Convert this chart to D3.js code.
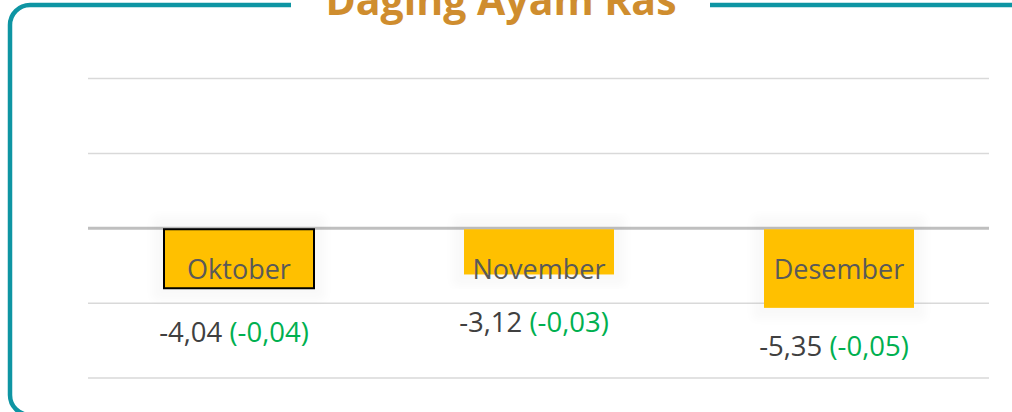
<!DOCTYPE html>
<html>
<head>
<meta charset="utf-8">
<script src="https://cdn.jsdelivr.net/npm/d3@7"></script>
<style>
  html, body { margin: 0; padding: 0; background: #fff; }
  svg { display: block; }
</style>
</head>
<body>
<svg id="chart" width="1012" height="412"></svg>
<script>
const title = "Daging Ayam Ras";
const categories = ["Oktober", "November", "Desember"];
const values = [-4.04, -3.12, -5.35];
const changes = [-0.04, -0.03, -0.05];
const yTicks = [-10, -5, 0, 5, 10];
const highlighted = ["Oktober"];

const fmt = v => d3.format(".2f")(v).replace("\u2212", "-").replace(".", ",");

const svg = d3.select("#chart");
const plot = { left: 89, right: 989, top: 78, bottom: 377.5 };

const x = d3.scaleBand().domain(categories)
  .range([plot.left, plot.right]).paddingInner(0.5).paddingOuter(0.25);
const y = d3.scaleLinear().domain([-10, 10]).range([plot.bottom, plot.top]);

// frame
svg.append("rect")
  .attr("x", 10).attr("y", 5).attr("width", 1020).attr("height", 410)
  .attr("rx", 20).attr("ry", 20)
  .attr("fill", "none").attr("stroke", "#0E95A3").attr("stroke-width", 4.5);
svg.append("rect").attr("x", 291).attr("y", 0).attr("width", 419).attr("height", 12).attr("fill", "#fff");

// title
svg.append("text")
  .attr("x", 501).attr("y", 15)
  .attr("text-anchor", "middle")
  .attr("font-family", "'Open Sans', sans-serif")
  .attr("font-weight", 700).attr("font-size", 41)
  .attr("fill", "#CF8D2E")
  .text(title);

// grid
const grid = svg.append("g")
  .attr("transform", `translate(${plot.left - 1},0)`)
  .call(d3.axisLeft(y).tickValues(yTicks).tickSize(-(plot.right - plot.left + 1)).tickFormat(""));
grid.select(".domain").remove();
grid.selectAll(".tick line")
  .attr("stroke", d => d === 0 ? "#BFBFBF" : "#D9D9D9")
  .attr("stroke-width", d => d === 0 ? 3 : 1.5);

// glow filter
const defs = svg.append("defs");
const f = defs.append("filter").attr("id", "glow").attr("x", "-30%").attr("y", "-30%").attr("width", "160%").attr("height", "160%");
f.append("feMorphology").attr("in", "SourceAlpha").attr("operator", "dilate").attr("radius", 12).attr("result", "d");
f.append("feGaussianBlur").attr("in", "d").attr("stdDeviation", 5).attr("result", "b");
f.append("feComponentTransfer").attr("in", "b").attr("result", "s")
  .append("feFuncA").attr("type", "linear").attr("slope", 0.025);
const m = f.append("feMerge");
m.append("feMergeNode").attr("in", "s");

svg.append("g").selectAll("rect").data(categories).join("rect")
  .attr("x", d => x(d)).attr("width", x.bandwidth())
  .attr("y", (d, i) => y(0)).attr("height", (d, i) => y(values[i]) - y(0))
  .attr("fill", "#000").attr("filter", "url(#glow)");

// bars
svg.append("g").selectAll("rect").data(categories).join("rect")
  .attr("x", d => x(d)).attr("width", x.bandwidth())
  .attr("y", y(0) + 1.5).attr("height", (d, i) => y(values[i]) - y(0) - 1.5)
  .attr("fill", "#FFC000")
  .attr("stroke", d => highlighted.includes(d) ? "#000" : "none")
  .attr("stroke-width", 2);

// category labels
svg.append("g").selectAll("text").data(categories).join("text")
  .attr("x", d => x(d) + x.bandwidth() / 2)
  .attr("y", y(0) + 51)
  .attr("text-anchor", "middle")
  .attr("font-family", "'Open Sans', sans-serif")
  .attr("font-size", 27)
  .attr("fill", "#595959")
  .text(d => d);

// value labels
const vl = svg.append("g").selectAll("text").data(categories).join("text")
  .attr("x", d => x(d) + x.bandwidth() / 2 - 5)
  .attr("y", (d, i) => y(0) + 70 + 0.73 * (y(values[i]) - y(0)))
  .attr("text-anchor", "middle")
  .attr("font-family", "'Open Sans', sans-serif")
  .attr("font-size", 27.5);
vl.append("tspan").attr("fill", "#404040").text((d, i) => fmt(values[i]) + " ");
vl.append("tspan").attr("fill", "#00B050").text((d, i) => "(" + fmt(changes[i]) + ")");
</script>
</body>
</html>
